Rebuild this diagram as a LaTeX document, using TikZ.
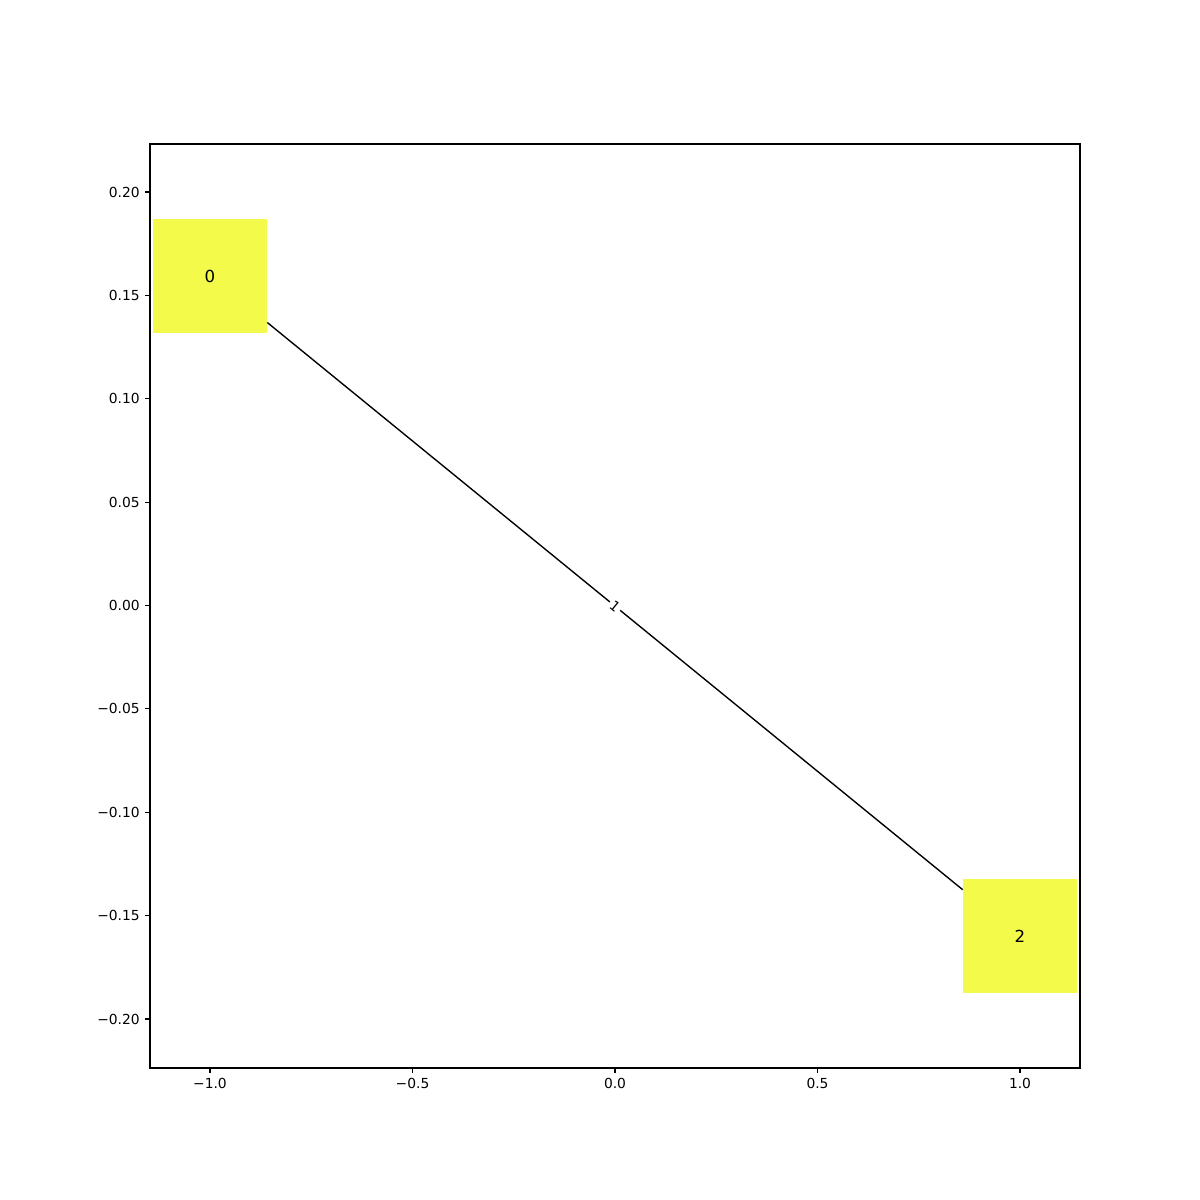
\documentclass[tikz,border=0pt]{standalone}
\usepackage{fontspec}
\setmainfont{DejaVu Sans}
\usetikzlibrary{positioning}
\definecolor{nodeyellow}{RGB}{244,250,74}

\tikzset{
  graphnode/.style={fill=nodeyellow, minimum size=28.96mm, inner sep=0pt, font=\fontsize{12}{14}\selectfont},
  edgelabel/.style={fill=white, inner sep=1.5pt, font=\fontsize{10}{12}\selectfont, sloped},
  ticklabel/.style={inner sep=0pt, font=\fontsize{10}{12}\selectfont},
  axisline/.style={line width=0.8pt}
}

\begin{document}
\begin{tikzpicture}[x=0.254mm, y=-0.254mm]
  \useasboundingbox[fill=white] (0,0) rectangle (1200,1200);

  % Axes frame
  \draw[axisline] (150,144) rectangle (1080,1068);

  % x ticks
  \foreach \xpos/\xlab in {210/−1.0, 412.5/−0.5, 615/0.0, 817.5/0.5, 1020/1.0} {
    \draw[axisline] (\xpos,1068) -- (\xpos,1072.9);
    \node[ticklabel, anchor=north] at (\xpos,1078) {\xlab};
  }

  % y ticks
  \foreach \ypos/\ylab in {192/0.20, 295.4/0.15, 398.8/0.10, 502.1/0.05, 605.5/0.00,
                           708.9/−0.05, 812.3/−0.10, 915.6/−0.15, 1019/−0.20} {
    \draw[axisline] (150,\ypos) -- (145.1,\ypos);
    \node[ticklabel, anchor=east] at (140,\ypos) {\ylab};
  }

  % Graph
  \node[graphnode] (nzero) at (210,276) {0};
  \node[graphnode] (ntwo) at (1020,936) {2};
  \draw[line width=1pt] (nzero) -- node[edgelabel] (ewone) {1} (ntwo);
\end{tikzpicture}
\end{document}
